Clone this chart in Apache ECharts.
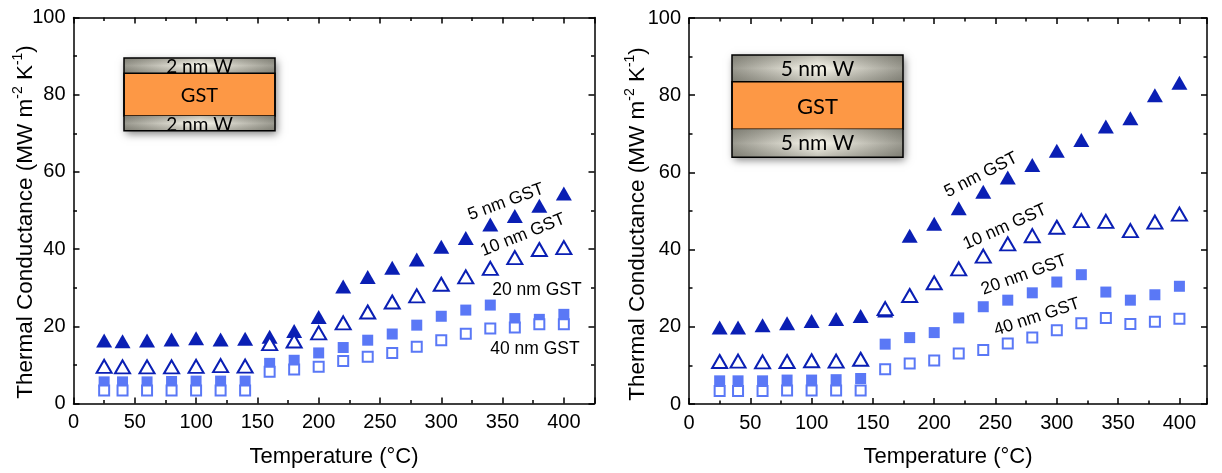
<!DOCTYPE html>
<html>
<head>
<meta charset="utf-8">
<script src="https://cdn.jsdelivr.net/npm/echarts@6/dist/echarts.min.js"></script>
<style>
html,body{margin:0;padding:0;background:#fff;}
#chart{width:1222px;height:473px;}
</style>
</head>
<body>
<div id="chart"></div>
<script>
// ---------- data ----------
const temps = [25,40,60,80,100,120,140,160,180,200,220,240,260,280,300,320,340,360,380,400];
const xTicks = ['0','50','100','150','200','250','300','350','400'];
const yTicks = ['0','20','40','60','80','100'];
const seriesNames = ['5 nm GST','10 nm GST','20 nm GST','40 nm GST'];
// left panel: 2 nm W capping
const gst5L  = [16.3,16.1,16.3,16.6,16.9,16.6,16.8,17.3,18.8,22.4,30.3,32.8,35.2,37.3,40.6,42.9,46.4,48.6,51.2,54.4];
const gst10L = [9.6,9.5,9.5,9.5,9.6,9.8,9.7,15.5,16.2,18.3,20.9,23.7,26.3,27.9,30.9,32.8,35.0,37.8,39.9,40.4];
const gst20L = [5.6,5.6,5.6,5.7,5.8,5.8,5.8,10.4,11.2,13.1,14.5,16.4,18.0,20.3,22.6,24.2,25.5,22.0,21.8,23.1];
const gst40L = [3.4,3.4,3.4,3.4,3.4,3.4,3.4,8.2,8.8,9.5,11.0,12.1,13.1,14.7,16.4,18.1,19.4,19.7,20.5,20.5];
// right panel: 5 nm W capping
const gst5R  = [19.8,19.8,20.4,20.9,21.5,22.0,22.8,24.2,43.6,46.7,50.7,55.0,58.7,61.9,65.6,68.4,71.9,74.0,80.0,83.2];
const gst10R = [11.0,11.1,10.9,11.0,11.2,11.1,11.6,24.7,28.1,31.4,35.0,38.3,41.5,43.6,45.8,47.5,47.3,44.9,47.1,49.2];
const gst20R = [6.0,6.0,6.0,6.2,6.2,6.3,6.6,15.5,17.2,18.5,22.3,25.2,26.9,28.8,31.6,33.5,29.0,26.9,28.3,30.5];
const gst40R = [3.4,3.4,3.4,3.5,3.5,3.5,3.5,9.0,10.5,11.3,13.1,14.0,15.7,17.2,19.1,20.9,22.3,20.7,21.3,22.1];

// ---------- styling ----------
const FONT = '"Liberation Sans", Arial, sans-serif';
const INSET_FONT = 'Lato, "Open Sans", sans-serif';
const DARK = '#0A1FB4';
const LIGHT = '#5A78F6';

function xAx(grid, pos, max, showLabel) {
  return {
    type: 'value', gridIndex: grid, position: pos, min: 0, max: max, interval: 50,
    name: showLabel ? 'Temperature (\u00B0C)' : '', nameLocation: 'middle', nameGap: 42,
    nameTextStyle: {fontFamily: FONT, fontSize: 22, color: '#000'},
    axisLine: {show: true, onZero: false, lineStyle: {color: '#000', width: 1.5}},
    axisTick: {show: true, inside: true, length: 6, lineStyle: {color: '#000', width: 1.5}},
    minorTick: {show: true, splitNumber: 2, length: 3.5, lineStyle: {color: '#000', width: 1.5}},
    splitLine: {show: false},
    axisLabel: {show: showLabel, margin: 9, fontFamily: FONT, fontSize: 20, color: '#000',
      formatter: v => xTicks.includes(String(v)) ? String(v) : ''}
  };
}
function yAx(grid, pos, showLabel) {
  return {
    type: 'value', gridIndex: grid, position: pos, min: 0, max: 100, interval: 20,
    axisLine: {show: true, onZero: false, lineStyle: {color: '#000', width: 1.5}},
    axisTick: {show: true, inside: true, length: 6, lineStyle: {color: '#000', width: 1.5}},
    minorTick: {show: true, splitNumber: 2, length: 3.5, lineStyle: {color: '#000', width: 1.5}},
    splitLine: {show: false},
    axisLabel: {show: showLabel, margin: 8, fontFamily: FONT, fontSize: 20, color: '#000',
      formatter: v => yTicks.includes(String(v)) ? String(v) : ''}
  };
}

function pts(arr) { return temps.map((t, i) => [t, arr[i]]); }
function mk(name, arr, xi, yi, kind) {
  const base = {name, type: 'scatter', xAxisIndex: xi, yAxisIndex: yi, data: pts(arr), silent: true, animation: false};
  if (kind === 'tf') return Object.assign(base, {symbol: 'triangle', symbolSize: [16, 14], itemStyle: {color: DARK, opacity: 1}});
  if (kind === 'to') return Object.assign(base, {symbol: 'triangle', symbolSize: [15, 13], itemStyle: {color: '#fff', borderColor: DARK, borderWidth: 2, opacity: 1}});
  if (kind === 'sf') return Object.assign(base, {symbol: 'rect', symbolSize: 11, itemStyle: {color: LIGHT, opacity: 1}});
  return Object.assign(base, {symbol: 'rect', symbolSize: 10, itemStyle: {color: '#fff', borderColor: LIGHT, borderWidth: 2, opacity: 1}});
}

function grayFill() {
  return {type: 'linear', x: 0, y: 0, x2: 1, y2: 0, colorStops: [
    {offset: 0, color: '#9a998f'}, {offset: 0.5, color: '#fbf9ee'}, {offset: 1, color: '#9a998f'}]};
}
function grayShade() {
  return {type: 'linear', x: 0, y: 0, x2: 0, y2: 1, colorStops: [
    {offset: 0, color: 'rgba(60,60,50,0.3)'}, {offset: 0.5, color: 'rgba(60,60,50,0)'}, {offset: 1, color: 'rgba(60,60,50,0.3)'}]};
}
function inset(x, y, w, hTop, hMid, hBot, wLabel, wSize, gSize, tY, gY, bY) {
  const h = hTop + hMid + hBot;
  const els = [];
  els.push({type: 'rect', shape: {x, y, width: w, height: h}, style: {fill: '#888', shadowBlur: 8, shadowColor: 'rgba(0,0,0,0.5)', shadowOffsetX: 2, shadowOffsetY: 3}});
  els.push({type: 'rect', shape: {x, y, width: w, height: hTop}, style: {fill: grayFill()}});
  els.push({type: 'rect', shape: {x, y, width: w, height: hTop}, style: {fill: grayShade()}});
  els.push({type: 'text', x: x + w / 2, y: tY, style: {text: wLabel, fontFamily: INSET_FONT, fontSize: wSize, fill: '#000', align: 'center', verticalAlign: 'middle'}});
  els.push({type: 'rect', shape: {x, y: y + hTop, width: w, height: hMid}, style: {fill: '#FD9845', stroke: '#000', lineWidth: 1.5}});
  els.push({type: 'text', x: x + w / 2, y: gY, style: {text: 'GST', fontFamily: INSET_FONT, fontSize: gSize, fill: '#000', align: 'center', verticalAlign: 'middle'}});
  els.push({type: 'rect', shape: {x, y: y + hTop + hMid, width: w, height: hBot}, style: {fill: grayFill()}});
  els.push({type: 'rect', shape: {x, y: y + hTop + hMid, width: w, height: hBot}, style: {fill: grayShade()}});
  els.push({type: 'text', x: x + w / 2, y: bY, style: {text: wLabel, fontFamily: INSET_FONT, fontSize: wSize, fill: '#000', align: 'center', verticalAlign: 'middle'}});
  els.push({type: 'rect', shape: {x, y, width: w, height: h}, style: {fill: 'none', stroke: '#000', lineWidth: 1.5}});
  return els;
}
function note(text, x, y, deg) {
  return {type: 'text', x, y, rotation: deg * Math.PI / 180, z: 10,
    style: {text, fontFamily: FONT, fontSize: 17.5, fill: '#000', align: 'center', verticalAlign: 'middle'}};
}
function yTitle(x, y) {
  return {type: 'text', x, y, rotation: Math.PI / 2,
    style: {text: '{a|Thermal Conductance (MW m}{s|-2}{a| K}{s|-1}{a|)}', align: 'center', verticalAlign: 'middle',
      rich: {a: {fontFamily: FONT, fontSize: 22.5, fill: '#000', lineHeight: 26, verticalAlign: 'bottom'},
             s: {fontFamily: FONT, fontSize: 14, fill: '#000', lineHeight: 16, verticalAlign: 'top'}}}};
}

const option = {
  backgroundColor: '#fff',
  animation: false,
  grid: [
    {left: 73.5, top: 17.5, width: 521, height: 386},
    {left: 689, top: 18, width: 518, height: 388}
  ],
  xAxis: [xAx(0, 'bottom', 425, true), xAx(0, 'top', 425, false), xAx(1, 'bottom', 422.5, true), xAx(1, 'top', 422.5, false)],
  yAxis: [yAx(0, 'left', true), yAx(0, 'right', false), yAx(1, 'left', true), yAx(1, 'right', false)],
  series: [
    mk(seriesNames[0], gst5L, 0, 0, 'tf'), mk(seriesNames[1], gst10L, 0, 0, 'to'),
    mk(seriesNames[2], gst20L, 0, 0, 'sf'), mk(seriesNames[3], gst40L, 0, 0, 'so'),
    mk(seriesNames[0], gst5R, 2, 2, 'tf'), mk(seriesNames[1], gst10R, 2, 2, 'to'),
    mk(seriesNames[2], gst20R, 2, 2, 'sf'), mk(seriesNames[3], gst40R, 2, 2, 'so')
  ],
  graphic: [].concat(
    inset(124, 58, 151, 15.3, 42.7, 14.7, '2 nm W', 19, 20, 67, 96, 124.5),
    inset(732, 55, 171, 26.7, 47.6, 28, '5 nm W', 21, 22, 69.5, 106.5, 143.5),
    [
      note(seriesNames[0], 506, 202, 20), note(seriesNames[1], 523, 235, 22),
      note(seriesNames[2], 537, 290, 0), note(seriesNames[3], 535, 349, 0),
      note(seriesNames[0], 981, 175, 27), note(seriesNames[1], 1005, 227, 24),
      note(seriesNames[2], 1024, 275, 20), note(seriesNames[3], 1037, 317, 18),
      yTitle(24, 222), yTitle(636, 224)
    ]
  )
};
const chart = echarts.init(document.getElementById('chart'), null, {renderer: 'canvas'});
chart.setOption(option);
</script>
</body>
</html>
